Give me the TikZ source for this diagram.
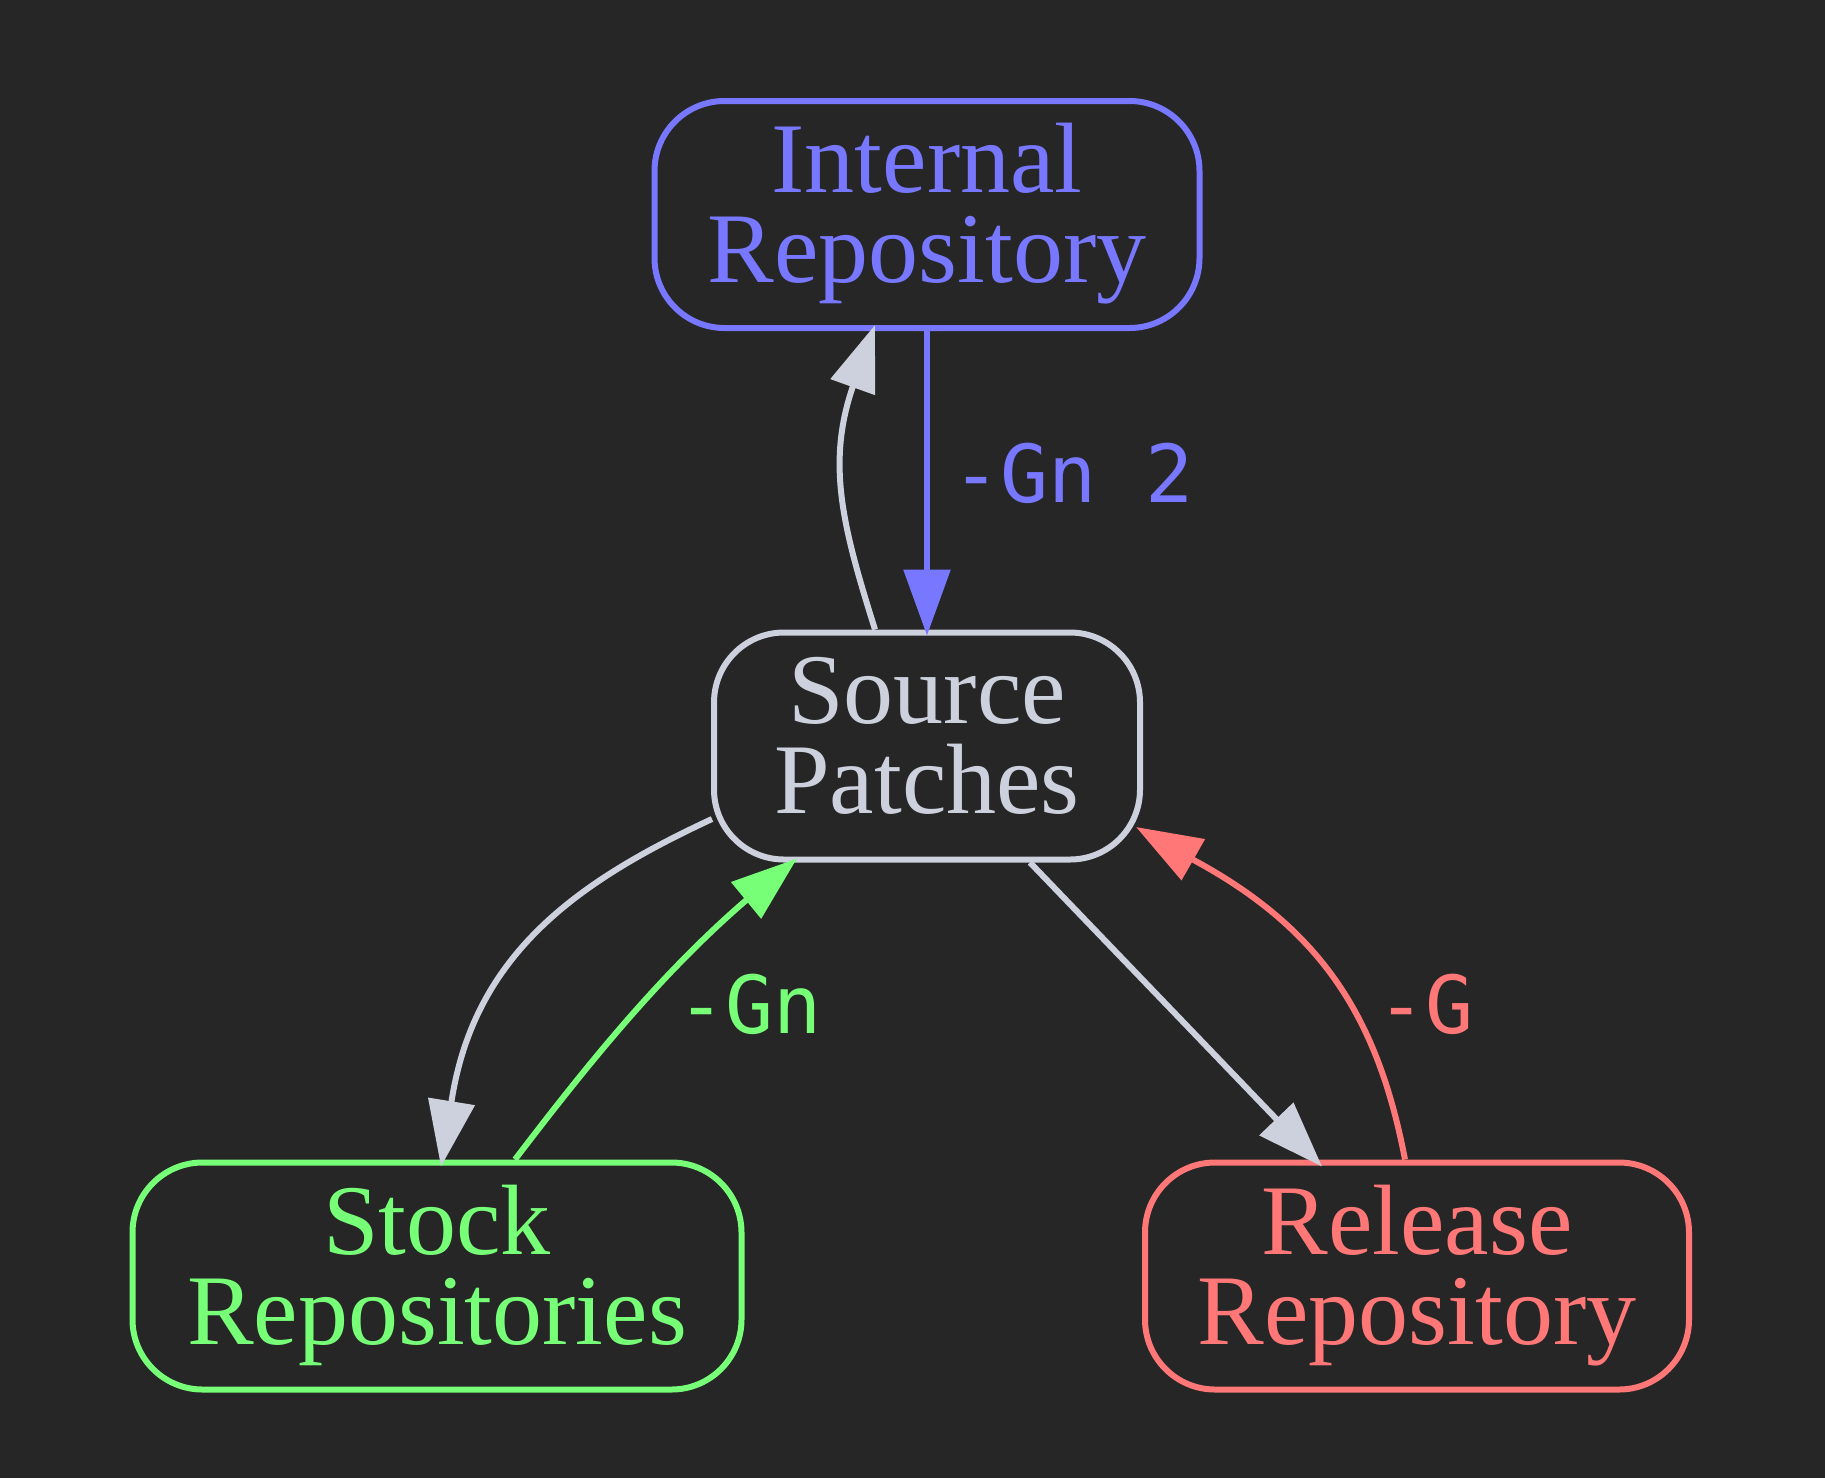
\documentclass[tikz,border=0pt]{standalone}
\usepackage{fontspec}
\setmainfont{Liberation Serif}
\setmonofont{DejaVu Sans Mono}
\usetikzlibrary{arrows.meta,calc}
\definecolor{bgc}{HTML}{262626}
\definecolor{blu}{HTML}{7777FF}
\definecolor{grn}{HTML}{77FF77}
\definecolor{redc}{HTML}{FF7777}
\definecolor{gry}{HTML}{CDD1DD}
\newcommand\topst{\rule{0pt}{34pt}}
\newcommand\botst{\rule[-11.5pt]{0pt}{11.5pt}}
\begin{document}
\begin{tikzpicture}[x=0.5pt,y=0.5pt,
  nd/.style={draw, line width=3pt, rounded corners=35pt, inner sep=0pt,
    minimum height=113.5pt, align=center, font=\fontsize{50}{45}\selectfont},
  edg/.style={line width=3pt, -{Triangle[length=33pt,width=23pt]}},
  lbl/.style={anchor=base west, inner sep=0pt, font=\fontsize{40}{48}\selectfont\ttfamily}]
\fill[bgc] (0,0) rectangle (1825,-1478);
\useasboundingbox (0,0) rectangle (1825,-1478);

\node[nd, draw=blu, text=blu, minimum width=272.5pt] (int) at (927,-214.5) {\topst Internal\\Repository\botst};
\node[nd, draw=gry, text=gry, minimum width=213pt] (src) at (927,-746) {\topst Source\\Patches\botst};
\node[nd, draw=grn, text=grn, minimum width=304.5pt] (stock) at (437,-1276) {\topst Stock\\Repositories\botst};
\node[nd, draw=redc, text=redc, minimum width=272pt] (rel) at (1417,-1276) {\topst Release\\Repository\botst};

% Internal -> Source
\draw[edg, blu] (int.south) -- ($(src.north)+(0,-6)$);
% Source -> Internal
\draw[edg, gry] ($(src.north)+(-52,0)$) .. controls (842.7,-526.8) and (826.8,-464.9) .. (852,-389)
  -- ($(int.south)+(-52,6)$);
% Source -> Stock
\draw[edg, gry] ($(src.west)+(1,-73)$) .. controls (578.5,-881) and (474.3,-953.3) .. (451.5,-1101.5)
  -- ($(stock.north)+(4,-7)$);
% Stock -> Source
\draw[edg, grn] ($(stock.north)+(78,0)$) .. controls (583.5,-1069.7) and (656.7,-977.9) .. (743.5,-902.5)
  -- ($(src.south)+(-130,4)$);
% Source -> Release
\draw[edg, gry] ($(src.south)+(103,0)$) -- ($(rel.north)+(-95,-7)$);
% Release -> Source
\draw[edg, redc] ($(rel.north)+(-12,0)$) .. controls (1378,-1019) and (1322.8,-930.3) .. (1195.5,-861)
  -- ($(src.east)+(-7,-81)$);

\node[lbl, text=blu] (l1) at (952,-502) {-Gn 2};
\node[lbl, text=grn] (l2) at (677,-1033) {-Gn};
\node[lbl, text=redc] (l3) at (1377,-1033) {-G};
\end{tikzpicture}
\end{document}
